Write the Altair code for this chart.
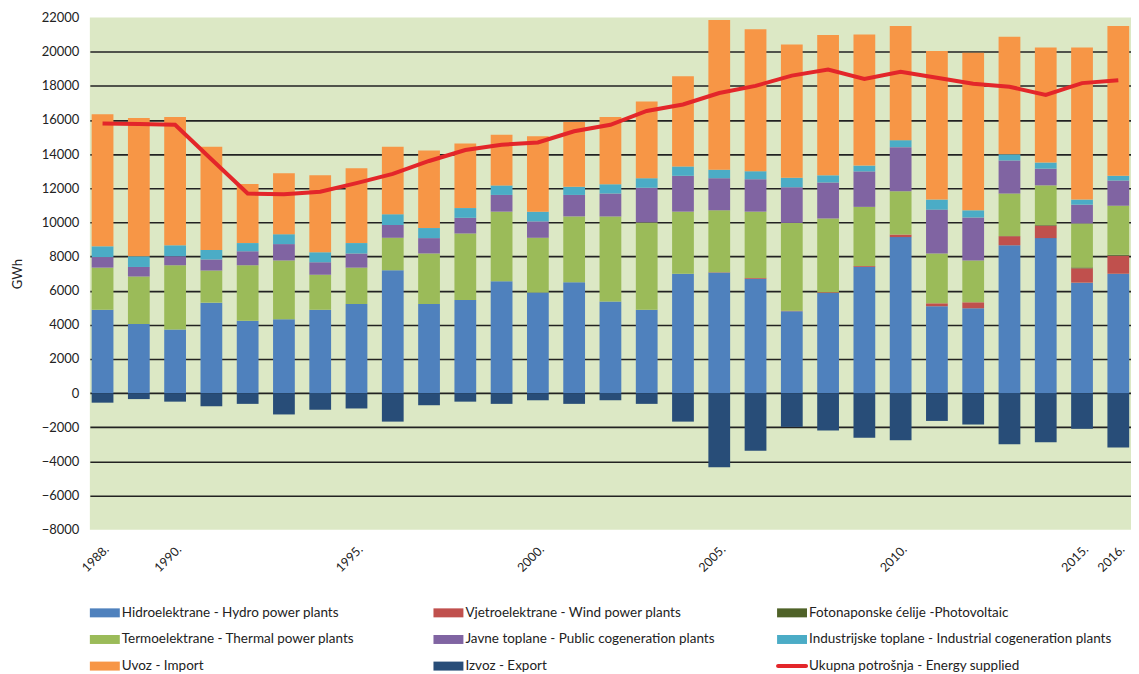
import altair as alt
import pandas as pd

years = ["1988", "1989", "1990", "1991", "1992", "1993", "1994", "1995", "1996", "1997",
         "1998", "1999", "2000", "2001", "2002", "2003", "2004", "2005", "2006", "2007",
         "2008", "2009", "2010", "2011", "2012", "2013", "2014", "2015", "2016"]

hydro = [4890, 4050, 3720, 5300, 4240, 4320, 4890, 5220, 7200, 5220, 5450, 6560, 5890, 6490, 5370,
         4890, 6990, 7060, 6700, 4800, 5870, 7400, 9140, 5090, 4970, 8660, 9080, 6470, 6990]
wind = [0, 0, 0, 0, 0, 0, 0, 0, 0, 0, 0, 0, 0, 0, 0,
        0, 0, 20, 50, 30, 40, 50, 150, 170, 350, 530, 730, 840, 1050]
pv = [0, 0, 0, 0, 0, 0, 0, 0, 0, 0, 0, 0, 0, 0, 0,
      0, 0, 0, 0, 0, 0, 0, 0, 0, 0, 10, 35, 55, 65]
thermal = [2460, 2780, 3770, 1880, 3250, 3450, 2040, 2130, 1900, 2960, 3900, 4070, 3210, 3860, 4980,
           5110, 3640, 3630, 3880, 5140, 4320, 3460, 2530, 2920, 2450, 2490, 2325, 2575, 2875]
public = [620, 560, 530, 650, 820, 960, 730, 830, 750, 900, 920, 980, 960, 1260, 1340,
          2030, 2100, 1880, 1900, 2090, 2110, 2080, 2590, 2570, 2520, 1940, 980, 1100, 1480]
industrial = [630, 630, 640, 560, 480, 580, 590, 610, 630, 590, 570, 560, 570, 480, 540,
              560, 550, 500, 470, 560, 420, 340, 410, 590, 420, 360, 360, 300, 270]
imports = [7730, 8100, 7520, 6040, 3460, 3570, 4510, 4380, 3950, 4550, 3790, 2970, 4420, 3800, 3950,
           4490, 5280, 8770, 8320, 7810, 8220, 7680, 6680, 8700, 9230, 6890, 6740, 8910, 8770]
exports = [-560, -350, -500, -770, -630, -1250, -980, -900, -1670, -710, -500, -630, -420, -630, -420,
           -630, -1670, -4340, -3380, -1980, -2190, -2610, -2760, -1630, -1840, -2990, -2880, -2090, -3190]
supplied = [15800, 15760, 15720, 13700, 11690, 11650, 11800, 12300, 12840, 13600, 14240, 14550, 14680, 15340, 15720,
            16530, 16910, 17580, 18000, 18600, 18960, 18410, 18830, 18470, 18120, 17950, 17470, 18160, 18330]

series_names = [
    "Hidroelektrane - Hydro power plants",
    "Vjetroelektrane  - Wind power plants",
    "Fotonaponske ćelije  -Photovoltaic",
    "Termoelektrane  - Thermal power plants",
    "Javne toplane - Public cogeneration plants",
    "Industrijske toplane - Industrial cogeneration plants",
    "Uvoz - Import",
    "Izvoz - Export",
]
series_colors = ["#4F81BD", "#C0504D", "#4F6228", "#9BBB59", "#8064A2", "#4BACC6", "#F79646", "#284D78"]
line_name = "Ukupna potrošnja - Energy supplied"
line_color = "#E3262A"
shown_years = ["1988", "1990", "1995", "2000", "2005", "2010", "2015", "2016"]
y_ticks = [-8000, -6000, -4000, -2000, 0, 2000, 4000, 6000, 8000, 10000,
           12000, 14000, 16000, 18000, 20000, 22000]

series_values = [hydro, wind, pv, thermal, public, industrial, imports, exports]
rows = []
for k, (name, vals) in enumerate(zip(series_names, series_values)):
    for yr, v in zip(years, vals):
        rows.append({"Year": yr, "Series": name, "Value": v, "Order": k})
bars_df = pd.DataFrame(rows)
line_df = pd.DataFrame({"Year": years, "Value": supplied})

FONT = "Lato"
label_expr = ("indexof([" + ",".join("'%s'" % s for s in shown_years) +
              "], datum.value) >= 0 ? datum.value + '.' : ''")

x_enc = alt.X("Year:N",
              scale=alt.Scale(domain=years, paddingInner=0.4, paddingOuter=0.05),
              axis=alt.Axis(labelExpr=label_expr, labelAngle=-45, labelAlign="right",
                            labelBaseline="top", ticks=False, tickSize=0, domain=False,
                            title=None, labelPadding=13, labelFontSize=12.5,
                            labelFont=FONT, labelColor="#222222", labelOverlap=False))
y_enc = alt.Y("Value:Q",
              scale=alt.Scale(domain=[-8000, 22000], nice=False, zero=False),
              axis=alt.Axis(values=y_ticks, format="d", title="GWh", titleFont=FONT, titleFontSize=13,
                            titleFontWeight="normal", titleColor="#222222", titlePadding=17,
                            labelFont=FONT, labelFontSize=13, labelColor="#222222",
                            labelPadding=11, ticks=False, tickSize=0, domain=False, grid=True,
                            gridColor={"condition": {"test": "datum.value == 22000 || datum.value == -8000",
                                                     "value": "transparent"},
                                       "value": "#222222"},
                            gridWidth=1.6))

bars = alt.Chart(bars_df).mark_bar().encode(
    x=x_enc,
    y=y_enc,
    color=alt.Color("Series:N", scale=alt.Scale(domain=series_names, range=series_colors), legend=None),
    order=alt.Order("Order:Q", sort="ascending"),
)
line = alt.Chart(line_df).mark_line(color=line_color, strokeWidth=4).encode(x=x_enc, y=y_enc)

main = alt.layer(bars, line).properties(
    width=1043, height=513,
    view=alt.ViewBackground(fill="#DCE8C5", stroke=None),
)

# legend built from the same name / colour lists
legend_labels = series_names + [line_name]
legend_colors = series_colors + [line_color]
leg_df = pd.DataFrame({
    "Label": legend_labels,
    "Color": legend_colors,
    "Col": [i % 3 for i in range(len(legend_labels))],
    "Row": [i // 3 for i in range(len(legend_labels))],
    "Kind": ["box"] * len(series_names) + ["line"],
})
lx = alt.X("Col:Q", scale=alt.Scale(domain=[0, 3.03]), axis=None)
ly = alt.Y("Row:Q", scale=alt.Scale(domain=[-0.5, 2.5], reverse=True), axis=None)

sw = alt.Chart(leg_df).transform_filter("datum.Kind == 'box'").mark_rect(
    width=30, height=9, xOffset=15).encode(x=lx, y=ly, color=alt.Color("Color:N", scale=None))
lsw = alt.Chart(leg_df).transform_filter("datum.Kind == 'line'").mark_rect(
    width=32, height=4, cornerRadius=2, xOffset=15).encode(x=lx, y=ly, color=alt.Color("Color:N", scale=None))
txt = alt.Chart(leg_df).mark_text(align="left", baseline="middle", dx=32, font=FONT,
                                  fontSize=13.5, color="#222222").encode(x=lx, y=ly, text="Label:N")
legend_chart = alt.layer(sw, lsw, txt).properties(
    width=1043, height=80, view=alt.ViewBackground(fill=None, stroke=None))

chart = alt.vconcat(main, legend_chart, spacing=25).properties(
    padding={"left": 3, "top": 3, "right": 0, "bottom": 0}
).configure_view(stroke=None)

chart.save("out.html", embed_options={"renderer": "svg", "actions": False})
